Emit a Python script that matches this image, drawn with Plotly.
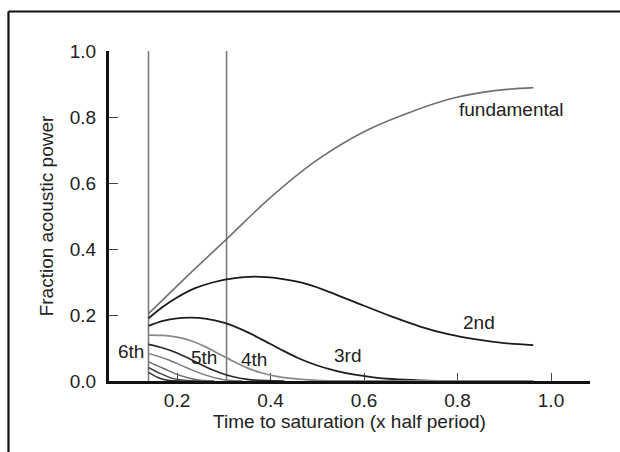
import plotly.graph_objects as go

# ---- data ----
fund_x = [0.139, 0.222, 0.306, 0.399, 0.500, 0.602, 0.703, 0.796, 0.880, 0.962]
fund_y = [0.204, 0.318, 0.430, 0.555, 0.670, 0.757, 0.817, 0.859, 0.880, 0.889]

h2_x = [0.139, 0.170, 0.200, 0.240, 0.280, 0.320, 0.365, 0.420, 0.480, 0.540,
        0.600, 0.660, 0.720, 0.780, 0.840, 0.900, 0.962]
h2_y = [0.190, 0.225, 0.253, 0.282, 0.300, 0.311, 0.316, 0.310, 0.293, 0.262,
        0.228, 0.195, 0.165, 0.142, 0.126, 0.115, 0.109]

h3_x = [0.139, 0.170, 0.200, 0.230, 0.260, 0.300, 0.340, 0.380, 0.420, 0.460,
        0.500, 0.540, 0.580, 0.620, 0.660, 0.720, 0.800, 0.962]
h3_y = [0.167, 0.182, 0.190, 0.192, 0.189, 0.177, 0.155, 0.127, 0.097, 0.069,
        0.047, 0.031, 0.019, 0.011, 0.006, 0.002, 0.0, 0.0]

h4_x = [0.139, 0.170, 0.200, 0.230, 0.260, 0.290, 0.320, 0.350, 0.380, 0.410,
        0.450, 0.500, 0.560, 0.962]
h4_y = [0.139, 0.138, 0.133, 0.122, 0.104, 0.082, 0.060, 0.040, 0.025, 0.015,
        0.007, 0.002, 0.0, 0.0]

h5_x = [0.139, 0.170, 0.200, 0.230, 0.260, 0.290, 0.320, 0.350, 0.390, 0.430]
h5_y = [0.111, 0.100, 0.085, 0.065, 0.044, 0.026, 0.013, 0.005, 0.001, 0.0]

h6_x = [0.139, 0.178, 0.221, 0.263, 0.300, 0.340]
h6_y = [0.083, 0.066, 0.040, 0.017, 0.004, 0.0]

h7_x = [0.139, 0.171, 0.206, 0.242, 0.280]
h7_y = [0.058, 0.038, 0.017, 0.004, 0.0]

h8_x = [0.139, 0.162, 0.190, 0.215, 0.250]
h8_y = [0.041, 0.024, 0.008, 0.002, 0.0]

h9_x = [0.139, 0.160, 0.180, 0.210]
h9_y = [0.026, 0.010, 0.002, 0.0]

guide_times = [0.139, 0.306]

x_ticks = [0.2, 0.4, 0.6, 0.8, 1.0]
x_labels = ["0.2", "0.4", "0.6", "0.8", "1.0"]
y_ticks = [0.0, 0.2, 0.4, 0.6, 0.8, 1.0]
y_labels = ["0.0", "0.2", "0.4", "0.6", "0.8", "1.0"]
y_minor = [0.2, 0.4, 0.6, 0.8]

curve_labels = ["fundamental", "2nd", "3rd", "4th", "5th", "6th"]
label_x = [0.916, 0.846, 0.565, 0.365, 0.257, 0.102]
label_y = [0.823, 0.177, 0.078, 0.066, 0.071, 0.088]

FONT = "Liberation Sans, Arial, sans-serif"
FS = 19

series = [
    (fund_x, fund_y, "#707070", 1.6),
    (h2_x, h2_y, "#1a1a1a", 1.8),
    (h3_x, h3_y, "#1e1e1e", 1.8),
    (h4_x, h4_y, "#8a8a8a", 1.8),
    (h5_x, h5_y, "#2a2a2a", 1.6),
    (h6_x, h6_y, "#7a7a7a", 1.5),
    (h7_x, h7_y, "#6a6a6a", 1.5),
    (h8_x, h8_y, "#444444", 1.5),
    (h9_x, h9_y, "#333333", 1.5),
]

fig = go.Figure()

for t in guide_times:
    fig.add_trace(go.Scatter(x=[t, t], y=[0, 1.0], mode="lines",
                             line=dict(color="#7c7c7c", width=1.6),
                             hoverinfo="skip", showlegend=False))

for xs, ys, col, w in series:
    fig.add_trace(go.Scatter(x=xs, y=ys, mode="lines",
                             line=dict(color=col, width=w, shape="spline", smoothing=1.0),
                             showlegend=False))

for txt, lx, ly in zip(curve_labels, label_x, label_y):
    fig.add_annotation(x=lx, y=ly, text=txt, showarrow=False,
                       font=dict(family=FONT, size=FS, color="#222"),
                       xanchor="center", yanchor="middle")

# outer frame (a crop of a larger box): left and top edges only are visible
fig.add_shape(type="line", xref="paper", yref="paper",
              x0=-0.209, x1=-0.209, y0=-0.3, y1=1.1197,
              line=dict(color="#111", width=2.2))
fig.add_shape(type="line", xref="paper", yref="paper",
              x0=-0.209, x1=1.2, y0=1.1197, y1=1.1197,
              line=dict(color="#111", width=2.2))

fig.update_layout(
    width=620, height=452,
    margin=dict(l=109, r=30, t=51, b=71),
    paper_bgcolor="white", plot_bgcolor="white",
    font=dict(family=FONT, size=FS, color="#222"),
)

fig.update_xaxes(
    range=[0.0545, 1.0834], showgrid=False, zeroline=False,
    showline=True, linecolor="#111", linewidth=3, layer="below traces",
    tickvals=x_ticks, ticktext=x_labels, ticks="inside", ticklen=8,
    tickcolor="#444", tickwidth=1.2, ticklabelstandoff=0,
    title=dict(text="Time to saturation (x half period)", standoff=4,
               font=dict(family=FONT, size=FS, color="#222")),
)

fig.update_yaxes(
    range=[0, 1.0], showgrid=False, zeroline=False,
    showline=True, linecolor="#111", linewidth=3,
    tickvals=y_ticks, ticktext=y_labels, ticks="",
    minor=dict(tickvals=y_minor, ticks="inside", ticklen=9,
               tickcolor="#444", tickwidth=1.2, showgrid=False),
    ticklabelstandoff=6,
    title=dict(text="Fraction acoustic power", standoff=12,
               font=dict(family=FONT, size=FS, color="#222")),
)

fig.write_html("out.html",
               config={"displayModeBar": False},
               post_script="document.body.style.margin='0';"
                           "document.body.style.overflow='hidden';")
